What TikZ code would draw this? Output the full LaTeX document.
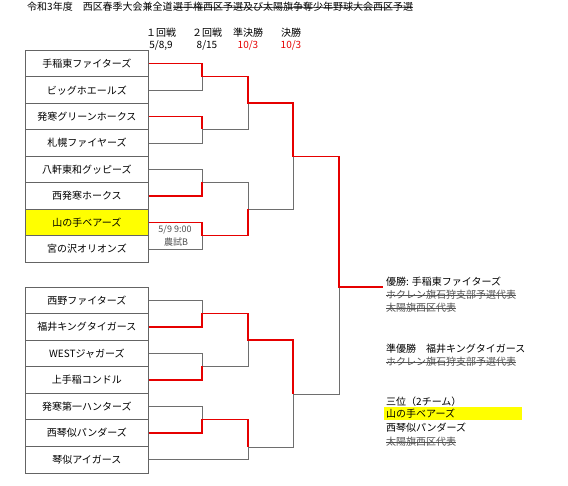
\documentclass[tikz,border=0pt]{standalone}
\usepackage{fontspec}
\setmainfont{Noto Sans CJK JP}
\definecolor{winred}{RGB}{230,0,0}
\definecolor{boxgray}{RGB}{100,100,100}
\definecolor{linegray}{RGB}{110,110,110}
\definecolor{strkgray}{RGB}{80,80,80}
\definecolor{hiyellow}{RGB}{255,255,0}
\begin{document}
\begin{tikzpicture}[x=1pt,y=-1pt,
  team/.style={draw=boxgray, line width=0.8pt, minimum width=123pt, minimum height=26.5pt, inner sep=0pt, anchor=north west, font=\fontsize{10}{12}\selectfont},
  lose/.style={draw=linegray, line width=0.8pt},
  win/.style={draw=winred, line width=1.6pt},
  lbl/.style={inner sep=0pt, font=\fontsize{10}{12}\selectfont},
  small/.style={inner sep=0pt, text=strkgray, font=\fontsize{9}{11}\selectfont},
  struck/.style={lbl, text=strkgray, path picture={\draw[strkgray, line width=0.6pt] (path picture bounding box.west) -- (path picture bounding box.east);}},
]
\useasboundingbox (0,0) rectangle (568,486);
\fill[white] (0,0) rectangle (568,486);

% title
\node[lbl, anchor=west] (title1) at (27,7) {令和3年度　西区春季大会兼全道};
\node[struck, text=black, anchor=west] (title2) at (title1.east) {選手権西区予選及び太陽旗争奪少年野球大会西区予選};

% column headers
\node[lbl] (h1) at (161,33) {１回戦};
\node[lbl] (d1) at (161,45) {5/8,9};
\node[lbl] (h2) at (207,33) {２回戦};
\node[lbl] (d2) at (207,45) {8/15};
\node[lbl] (h3) at (248,33) {準決勝};
\node[lbl, text=winred] (d3) at (248,45) {10/3};
\node[lbl] (h4) at (291,33) {決勝};
\node[lbl, text=winred] (d4) at (291,45) {10/3};

% teams top
\node[team] (t1) at (25,50) {手稲東ファイターズ};
\node[team] (t2) at (25,76.5) {ビッグホエールズ};
\node[team] (t3) at (25,103) {発寒グリーンホークス};
\node[team] (t4) at (25,129.5) {札幌ファイヤーズ};
\node[team] (t5) at (25,156) {八軒東和グッピーズ};
\node[team] (t6) at (25,182.5) {西発寒ホークス};
\node[team, fill=hiyellow] (t7) at (25,209) {山の手ベアーズ};
\node[team] (t8) at (25,235.5) {宮の沢オリオンズ};
% teams bottom
\node[team] (u1) at (25,287) {西野ファイターズ};
\node[team] (u2) at (25,313.5) {福井キングタイガース};
\node[team] (u3) at (25,340) {WESTジャガーズ};
\node[team] (u4) at (25,366.5) {上手稲コンドル};
\node[team] (u5) at (25,393) {発寒第一ハンターズ};
\node[team] (u6) at (25,419.5) {西琴似パンダーズ};
\node[team] (u7) at (25,446) {琴似アイガース};

% junctions
\coordinate (a1) at (202,76.5);
\coordinate (a2) at (202,129.5);
\coordinate (a3) at (202,182.5);
\coordinate (a4) at (202,235.5);
\coordinate (b1) at (248,103);
\coordinate (b2) at (248,209);
\coordinate (c1) at (293,156.5);
\coordinate (a5) at (202,313.5);
\coordinate (a6) at (202,366.5);
\coordinate (a7) at (202,419.5);
\coordinate (b3) at (248,340);
\coordinate (b4) at (248,447);
\coordinate (c2) at (293,394);
\coordinate (f) at (339,287);
\coordinate (champ) at (383,287);

% losing lines
\draw[lose] (t2.east) -| (a1);
\draw[lose] (t4.east) -| (a2);
\draw[lose] (t5.east) -| (a3);
\draw[lose] (t8.east) -| (a4);
\draw[lose] (a2) -| (b1);
\draw[lose] (a3) -| (b2);
\draw[lose] (b2) -| (c1);
\draw[lose] (u1.east) -| (a5);
\draw[lose] (u3.east) -| (a6);
\draw[lose] (u5.east) -| (a7);
\draw[lose] (a6) -| (b3);
\draw[lose] (u7.east) -| (b4);
\draw[lose] (b4) -| (c2);
\draw[lose] (c2) -| (f);

% winning lines
\draw[win] (t1.east) -| (a1) -| (b1) -| (c1) -| (f) -- (champ);
\draw[win] (t3.east) -| (a2);
\draw[win] (t6.east) -| (a3);
\draw[win] (t7.east) -| (a4) -| (b2);
\draw[win] (u2.east) -| (a5) -| (b3) -| (c2);
\draw[win] (u4.east) -| (a6);
\draw[win] (u6.east) -| (a7) -| (b4);

% game note
\node[small] (n1) at (175,230) {5/9 9:00};
\node[small] (n2) at (176,242) {農試B};

% results
\node[lbl, anchor=west] (r1) at (386,282) {優勝: 手稲東ファイターズ};
\node[struck, anchor=west] (r2) at (386,295) {ホクレン旗石狩支部予選代表};
\node[struck, anchor=west] (r3) at (386,308) {太陽旗西区代表};
\node[lbl, anchor=west] (r4) at (386,349) {準優勝　福井キングタイガース};
\node[struck, anchor=west] (r5) at (386,362) {ホクレン旗石狩支部予選代表};
\node[lbl, anchor=west] (r6) at (386,402) {三位（2チーム）};
\fill[hiyellow] (384,407) rectangle (522,420);
\node[lbl, anchor=west] (r7) at (386,414) {山の手ベアーズ};
\node[lbl, anchor=west] (r8) at (386,428) {西琴似パンダーズ};
\node[struck, anchor=west] (r9) at (386,442) {太陽旗西区代表};
\end{tikzpicture}
\end{document}
